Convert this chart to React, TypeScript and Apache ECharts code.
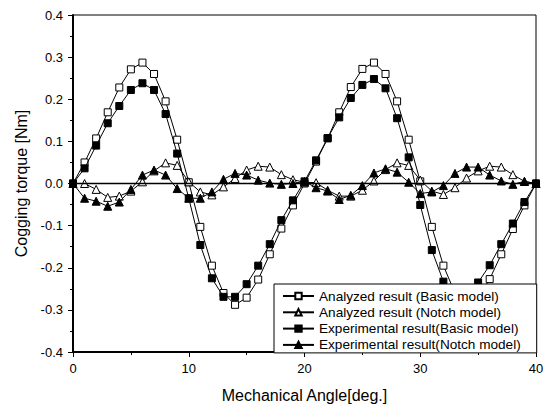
import React, { useEffect, useRef } from "react";
import * as echarts from "echarts";

const angles = [0,1,2,3,4,5,6,7,8,9,10,11,12,13,14,15,16,17,18,19,20,21,22,23,24,25,26,27,28,29,30,31,32,33,34,35,36,37,38,39,40];

const analyzedBasic = [0,0.050,0.107,0.169,0.228,0.271,0.287,0.260,0.195,0.104,0.003,-0.103,-0.195,-0.260,-0.288,-0.271,-0.228,-0.168,-0.107,-0.052,0.0,
  0.052,0.107,0.169,0.229,0.272,0.287,0.260,0.195,0.104,0.005,-0.103,-0.195,-0.260,-0.288,-0.271,-0.227,-0.168,-0.108,-0.052,0.0];

const analyzedNotch = [0,0.0,-0.014,-0.033,-0.030,-0.018,0.004,0.030,0.049,0.043,0.004,-0.020,-0.027,-0.008,0.012,0.032,0.041,0.039,0.021,0.009,0.003,
  0.002,-0.016,-0.030,-0.030,-0.016,0.006,0.033,0.049,0.043,0.008,-0.018,-0.026,-0.010,0.013,0.030,0.041,0.039,0.021,0.005,0.0];

const experimentalBasic = [0,0.036,0.090,0.143,0.184,0.222,0.238,0.222,0.165,0.071,-0.035,-0.146,-0.225,-0.269,-0.269,-0.239,-0.195,-0.144,-0.087,-0.040,0.005,
  0.055,0.108,0.157,0.203,0.234,0.248,0.226,0.155,0.062,-0.051,-0.158,-0.233,-0.270,-0.270,-0.235,-0.194,-0.144,-0.095,-0.044,0.0];

const experimentalNotch = [0,-0.035,-0.042,-0.054,-0.044,-0.014,0.020,0.032,0.020,-0.012,-0.035,-0.035,-0.020,0.010,0.024,0.020,0.008,0.001,-0.002,0.0,0.005,
  -0.010,-0.018,-0.038,-0.028,-0.005,0.025,0.035,0.027,0.003,-0.024,-0.020,-0.005,0.024,0.039,0.039,0.020,0.006,-0.002,0.005,0.0];

const seriesNames = [
  "Analyzed result (Basic model)",
  "Analyzed result (Notch model)",
  "Experimental result(Basic model)",
  "Experimental result(Notch model)",
];

const FONT = "Arial, 'Liberation Sans', sans-serif";

export default function App() {
  const ref = useRef<HTMLDivElement>(null);
  useEffect(() => {
    document.body.style.margin = "0";
    const chart = echarts.init(ref.current!, null, { renderer: "svg" });
    const pairs = (arr: number[]) => angles.map((a, i) => [a, arr[i]]);
    const mk = (name: string, arr: number[], symbol: string, filled: boolean, z: number) => ({
      name,
      type: "line",
      data: pairs(arr),
      symbol,
      symbolSize: symbol === "rect" ? 7 : 8,
      showAllSymbol: true,
      z,
      lineStyle: { color: "#000", width: 1 },
      itemStyle: { color: filled ? "#000" : "#fff", borderColor: "#000", borderWidth: 1 },
      emphasis: { disabled: true },
    });
    const s0: any = mk(seriesNames[0], analyzedBasic, "rect", false, 2);
    s0.markLine = {
      silent: true,
      symbol: "none",
      label: { show: false },
      lineStyle: { color: "#000", width: 1.3, type: "solid" },
      data: [{ yAxis: 0 }],
    };
    chart.setOption({
      animation: false,
      textStyle: { fontFamily: FONT },
      grid: {
        left: 73, top: 15, width: 463, height: 338,
        show: true, borderColor: "#000", borderWidth: 1, backgroundColor: "transparent",
      },
      xAxis: {
        type: "value", min: 0, max: 40, interval: 10,
        name: "Mechanical Angle[deg.]", nameLocation: "middle", nameGap: 35,
        nameTextStyle: { fontSize: 16, color: "#000", fontFamily: FONT },
        axisLine: { show: true, onZero: false, lineStyle: { color: "#000", width: 2 } },
        axisTick: { show: true, length: 5, lineStyle: { color: "#000", width: 1 } },
        minorTick: { show: true, splitNumber: 2, length: 3, lineStyle: { color: "#000", width: 1 } },
        axisLabel: { fontSize: 13, color: "#000", margin: 10, fontFamily: FONT },
        splitLine: { show: false },
      },
      yAxis: {
        type: "value", min: -0.4, max: 0.4, interval: 0.1,
        name: "Cogging torque [Nm]", nameLocation: "middle", nameGap: 43,
        nameTextStyle: { fontSize: 16, color: "#000", fontFamily: FONT },
        axisLine: { show: true, onZero: false, lineStyle: { color: "#000", width: 2 } },
        axisTick: { show: true, length: 5, lineStyle: { color: "#000", width: 1 } },
        minorTick: { show: true, splitNumber: 2, length: 3, lineStyle: { color: "#000", width: 1 } },
        axisLabel: { fontSize: 13, color: "#000", margin: 10, fontFamily: FONT,
          formatter: (v: number) => v.toFixed(1) },
        splitLine: { show: false },
      },
      legend: {
        left: 274, top: 284,
        orient: "vertical",
        data: seriesNames,
        backgroundColor: "#fff",
        borderColor: "#000",
        borderWidth: 1,
        padding: [5, 16, 1, 8],
        itemGap: 2.3,
        itemWidth: 31,
        itemHeight: 8,
        textStyle: { fontSize: 13.6, color: "#000", fontFamily: FONT, lineHeight: 14 },
        selectedMode: false,
        z: 10,
      },
      series: [
        s0,
        mk(seriesNames[1], analyzedNotch, "triangle", false, 3),
        mk(seriesNames[2], experimentalBasic, "rect", true, 4),
        mk(seriesNames[3], experimentalNotch, "triangle", true, 5),
      ],
    });
    return () => chart.dispose();
  }, []);
  return <div ref={ref} style={{ width: 547, height: 408 }} />;
}
